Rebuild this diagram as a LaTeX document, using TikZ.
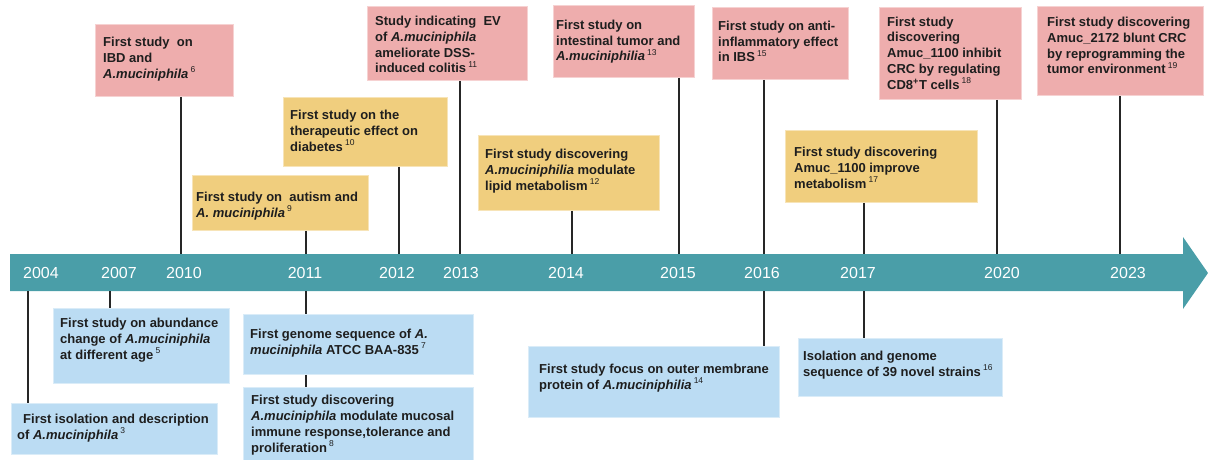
\documentclass[tikz,border=0pt]{standalone}
\usepackage{fontspec}
\setmainfont{Liberation Sans}
\definecolor{band}{HTML}{4A9EA8}
\definecolor{pinkc}{HTML}{EEADAD}
\definecolor{yelc}{HTML}{F0CE7E}
\definecolor{bluec}{HTML}{BBDCF3}
\definecolor{ink}{HTML}{1E1E1E}
\definecolor{stemc}{HTML}{262626}
% reference number set small and raised after an entry
\newcommand\refnum[1]{\,\raisebox{0.42em}{\fontsize{8.5}{8.5}\selectfont\mdseries #1}}
\tikzset{
  box/.style={rectangle, inner sep=0pt, anchor=north west, fill=#1, draw=#1!55!white, line width=0.8pt},
  % texts are placed by the baseline of their last line
  txt/.style={anchor=base west, align=left, inner sep=0pt, text=ink,
              font=\fontsize{13}{15.7}\selectfont\bfseries},
  yr/.style={text=white, inner sep=0pt, font=\fontsize{16}{16}\selectfont},
  stem/.style={draw=stemc, line width=2.8pt}
}
\begin{document}
\begin{tikzpicture}[x=1pt, y=-1pt]
\useasboundingbox (0,0) rectangle (1208,460);

% timeline arrow
\fill[band] (10,254) -- (1183,254) -- (1183,237) -- (1208,273) -- (1183,309)
  -- (1183,291) -- (10,291) -- cycle;

% attachment points on the band (upper and lower edge)
\coordinate (u10) at (181,254);  \coordinate (u11) at (306,254);
\coordinate (u12) at (399,254);  \coordinate (u13) at (460,254);
\coordinate (u14) at (572,254);  \coordinate (u15) at (679,254);
\coordinate (u16) at (764,254);  \coordinate (u17) at (864,254);
\coordinate (u20) at (997,254);  \coordinate (u23) at (1120,254);
\coordinate (l04) at (28,291);   \coordinate (l07) at (110,291);
\coordinate (l11) at (306,291);  \coordinate (l16) at (764,291);
\coordinate (l17) at (864,291);

% years
\node[yr] (y04) at (41,273) {2004};
\node[yr] (y07) at (119,273) {2007};
\node[yr] (y10) at (184,273) {2010};
\node[yr] (y11) at (305,273) {2011};
\node[yr] (y12) at (397,273) {2012};
\node[yr] (y13) at (461,273) {2013};
\node[yr] (y14) at (566,273) {2014};
\node[yr] (y15) at (678,273) {2015};
\node[yr] (y16) at (762,273) {2016};
\node[yr] (y17) at (858,273) {2017};
\node[yr] (y20) at (1002,273) {2020};
\node[yr] (y23) at (1128,273) {2023};

% boxes above the line
\node[box=pinkc, minimum width=138pt, minimum height=72pt] (ibd) at (95,24) {};
\node[box=yelc,  minimum width=164pt, minimum height=69pt] (dia) at (283,97) {};
\node[box=yelc,  minimum width=176pt, minimum height=55pt] (aut) at (192,175) {};
\node[box=pinkc, minimum width=160pt, minimum height=74pt] (ev)  at (367,6) {};
\node[box=pinkc, minimum width=141pt, minimum height=72pt] (tum) at (553,5) {};
\node[box=yelc,  minimum width=181pt, minimum height=75pt] (lip) at (478,135) {};
\node[box=pinkc, minimum width=136pt, minimum height=72pt] (ibs) at (712,7) {};
\node[box=yelc,  minimum width=192pt, minimum height=72pt] (met) at (785,130) {};
\node[box=pinkc, minimum width=142pt, minimum height=92pt] (crc) at (879,7) {};
\node[box=pinkc, minimum width=166pt, minimum height=89pt] (amc) at (1037,6) {};

% boxes below the line
\node[box=bluec, minimum width=206pt, minimum height=51pt] (iso) at (11,403) {};
\node[box=bluec, minimum width=176pt, minimum height=75pt] (abu) at (53,308) {};
\node[box=bluec, minimum width=230pt, minimum height=60pt] (gen) at (243,314) {};
\node[box=bluec, minimum width=230pt, minimum height=73pt] (muc) at (243,387) {};
\node[box=bluec, minimum width=251pt, minimum height=71pt] (omp) at (528,346) {};
\node[box=bluec, minimum width=204pt, minimum height=58pt] (nov) at (798,338) {};

% stems
\draw[stem] (ibd.south -| u10) -- (u10);
\draw[stem] (aut.south -| u11) -- (u11);
\draw[stem] (dia.south -| u12) -- (u12);
\draw[stem] (ev.south -| u13) -- (u13);
\draw[stem] (lip.south -| u14) -- (u14);
\draw[stem] (tum.south -| u15) -- (u15);
\draw[stem] (ibs.south -| u16) -- (u16);
\draw[stem] (met.south -| u17) -- (u17);
\draw[stem] (crc.south -| u20) -- (u20);
\draw[stem] (amc.south -| u23) -- (u23);
\draw[stem] (l04) -- (l04 |- iso.north);
\draw[stem] (l07) -- (l07 |- abu.north);
\draw[stem] (l11) -- (l11 |- gen.north);
\draw[stem] (gen.south -| l11) -- (muc.north -| l11);
\draw[stem] (l16) -- (l16 |- omp.north);
\draw[stem] (l17) -- (l17 |- nov.north);

% texts above
\node[txt] (ibd-t) at (103,78) {First study\ \ on\\IBD and\\\textit{A.muciniphila}\refnum{6}};
\node[txt] (dia-t) at (290,151) {First study on the\\therapeutic effect on\\diabetes\refnum{10}};
\node[txt] (aut-t) at (196,217) {First study on\ \ autism and\\\textit{A. muciniphila}\refnum{9}};
\node[txt] (ev-t)  at (375,73) {Study indicating\ \ EV\\of \textit{A.muciniphila}\\ameliorate DSS-\\induced colitis\refnum{11}};
\node[txt] (tum-t) at (556,61) {First study on\\intestinal tumor and\\\textit{A.muciniphilia}\refnum{13}};
\node[txt] (lip-t) at (485,190) {First study discovering\\\textit{A.muciniphilia} modulate\\lipid metabolism\refnum{12}};
\node[txt] (ibs-t) at (718,62) {First study on anti-\\inflammatory effect\\in IBS\refnum{15}};
\node[txt] (met-t) at (794,188) {First study discovering\\Amuc\_1100 improve\\metabolism\refnum{17}};
\node[txt] (crc-t) at (887,89) {First study\\discovering\\Amuc\_1100 inhibit\\CRC by regulating\\CD8\textsuperscript{+}T cells\refnum{18}};
\node[txt] (amc-t) at (1047,74) {First study discovering\\Amuc\_2172 blunt CRC\\by reprogramming the\\tumor environment\refnum{19}};

% texts below
\node[txt] (iso-t1) at (23,423) {First isolation and description};
\node[txt] (iso-t2) at (17,439) {of \textit{A.muciniphila}\refnum{3}};
\node[txt] (abu-t) at (60,359) {First study on abundance\\change of \textit{A.muciniphila}\\at different age\refnum{5}};
\node[txt] (gen-t) at (250,354) {First genome sequence of \textit{A.}\\\textit{muciniphila} ATCC BAA-835\refnum{7}};
\node[txt] (muc-t) at (251,452) {First study discovering\\\textit{A.muciniphila} modulate mucosal\\immune response,tolerance and\\proliferation\refnum{8}};
\node[txt] (omp-t) at (539,389) {First study focus on outer membrane\\protein of \textit{A.muciniphilia}\refnum{14}};
\node[txt] (nov-t) at (803,376) {Isolation and genome\\sequence of 39 novel strains\refnum{16}};
\end{tikzpicture}
\end{document}
